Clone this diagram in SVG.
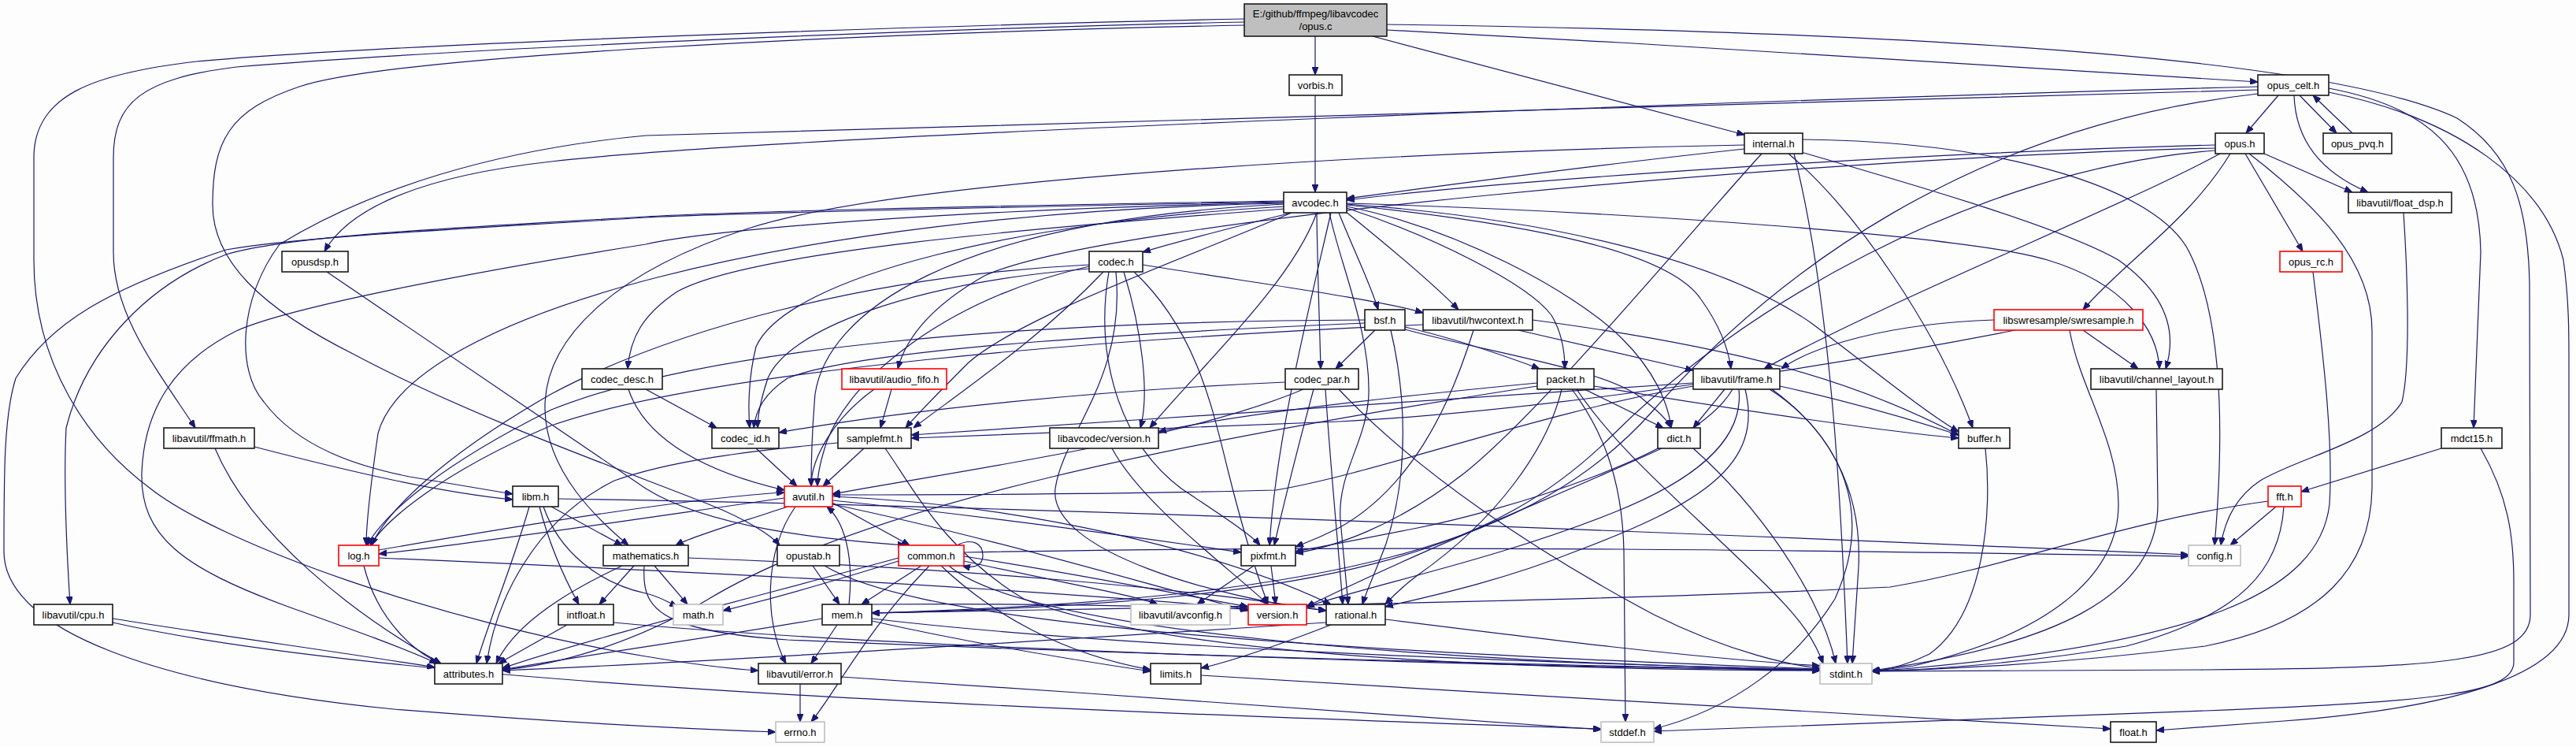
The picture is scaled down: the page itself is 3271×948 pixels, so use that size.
<svg xmlns="http://www.w3.org/2000/svg" width="3271" height="948" viewBox="0 0 3271 948">
<style>
.bg{fill:#fcfdfc}
.n rect{fill:#fff;stroke:#1a1a1a;stroke-width:1.6}
.r rect{fill:#fff;stroke:#ff0000;stroke-width:1.6}
.g rect{fill:#fff;stroke:#bfbfbf;stroke-width:1.6}
.root rect{fill:#bfbfbf;stroke:#1a1a1a;stroke-width:1.6}
text{font-family:"Liberation Sans",Arial,sans-serif;font-size:13px;fill:#000;text-anchor:middle}
#edges path{fill:none;stroke:#191970;stroke-width:1.2;marker-end:url(#a)}
</style>
<defs>
<marker id="a" markerWidth="10" markerHeight="8" refX="10" refY="4" orient="auto" markerUnits="userSpaceOnUse"><path d="M0,0 L10,4 L0,8 z" fill="#191970" stroke="#191970" stroke-width="1"/></marker>
</defs>
<rect class="bg" x="0" y="0" width="3271" height="948"/>
<g id="edges">
<!-- opus.c -->
<path d="M1670,46 L1670,95"/>
<path d="M1743,46 L2215,171"/>
<path d="M1761,38 C2150,58 2600,86 2867,104"/>
<path d="M1761,31 C2400,40 2950,70 3120,150 C3190,195 3210,260 3212,360 L3213,780 C3213,840 3100,848 2800,850 C2600,851 2450,852 2377,852"/>
<path d="M1580,28 C1200,36 600,60 300,85 C180,100 144,130 144,200 L144,320 C144,400 200,470 248,543"/>
<path d="M1580,24 C1200,32 500,55 250,78 C120,93 43,120 43,200 L43,330 C43,460 110,560 191,620 C280,690 560,790 820,833 C880,843 930,849 963,851"/>
<path d="M1580,32 C1100,42 500,70 380,110 C290,140 270,180 270,260 C270,330 330,390 450,450 C600,530 800,600 900,640 C950,660 980,680 990,692"/>
<!-- vorbis.h -->
<path d="M1670,121 L1670,244"/>
<!-- internal.h -->
<path d="M2215,189 C2000,212 1800,240 1710,252"/>
<path d="M2215,184 C1800,192 1150,225 950,290 C780,345 690,430 692,520 C694,600 760,660 798,692"/>
<path d="M2237,195 C2150,290 1960,520 1860,600 C1770,670 1690,695 1645,702"/>
<path d="M2271,195 C2360,270 2460,420 2505,543"/>
<path d="M2287,193 C2450,240 2620,290 2690,330 C2760,380 2762,430 2750,468"/>
<path d="M2289,177 C2550,180 2740,240 2780,320 C2830,420 2820,600 2812,692"/>
<path d="M2278,195 C2330,400 2340,700 2346,842"/>
<!-- opus_celt.h -->
<path d="M2893,121 L2852,169"/>
<path d="M2920,121 L2967,169"/>
<path d="M2913,121 C2915,180 2950,220 3007,244"/>
<path d="M2957,112 C3080,135 3148,190 3150,320 L3141,543"/>
<path d="M2957,117 C3120,150 3230,230 3255,330 C3262,380 3262,420 3262,460 L3262,780 C3262,860 3100,900 2900,915 C2800,922 2760,925 2738,927"/>
<path d="M2867,110 C2300,125 1000,170 700,205 C520,225 440,270 412,319"/>
<path d="M2867,114 C2300,130 1200,160 820,172 C627,190 470,240 355,310 C303,380 300,470 335,510 C380,570 460,593 520,605 C580,615 620,622 651,627"/>
<path d="M2867,119 C2500,160 2250,350 2100,520 C1950,690 1700,760 1107,778"/>
<!-- opus.h -->
<path d="M2813,184 C2400,195 1900,230 1710,254"/>
<path d="M2813,188 C2300,200 1400,280 1250,350 C1180,390 1150,430 1140,468"/>
<path d="M2819,195 C2700,260 2400,380 2240,468"/>
<path d="M2832,195 C2780,280 2700,330 2645,393"/>
<path d="M2851,195 L2924,319"/>
<path d="M2875,195 L2987,244"/>
<path d="M2856,195 C2940,260 3012,330 3012,420 L3012,620 C3010,720 2950,790 2800,820 C2600,845 2450,850 2377,852"/>
<path d="M2813,191 C2500,215 2200,400 2050,550 C1900,700 1700,765 1107,778"/>
<!-- opus_pvq.h -->
<path d="M2987,169 L2937,121"/>
<!-- float_dsp.h -->
<path d="M3052,270 C3056,330 3062,460 3050,510 C3020,560 2920,580 2870,610 C2840,630 2825,660 2820,692"/>
<!-- avcodec.h -->
<path d="M1640,270 C1560,290 1500,305 1451,320"/>
<path d="M1632,265 C1300,290 950,320 860,370 C815,400 800,430 797,468"/>
<path d="M1672,270 C1673,350 1676,420 1677,468"/>
<path d="M1688,270 C1700,330 1740,420 1738,500 C1736,560 1698,600 1702,660 L1712,767"/>
<path d="M1700,270 C1720,320 1740,360 1750,393"/>
<path d="M1708,268 C1760,310 1820,360 1852,393"/>
<path d="M1710,264 C1820,300 1940,360 1970,400 C1985,425 1987,450 1987,468"/>
<path d="M1710,262 C1850,290 2000,370 2060,430 C2100,470 2118,510 2122,543"/>
<path d="M1710,260 C1950,285 2120,320 2160,380 C2185,415 2195,445 2198,468"/>
<path d="M1710,259 C2000,280 2200,340 2300,410 C2380,470 2440,520 2487,548"/>
<path d="M1710,258 C2100,270 2500,300 2600,330 C2700,360 2740,420 2742,468"/>
<path d="M1690,270 C1660,400 1620,560 1612,692"/>
<path d="M1640,270 C1500,330 1300,400 1230,460 C1190,500 1165,525 1150,543"/>
<path d="M1632,262 C1300,280 1000,350 960,440 C950,480 950,520 952,543"/>
<path d="M1632,259 C1200,280 1050,400 1035,500 C1030,560 1030,600 1030,617"/>
<path d="M1630,258 C1000,270 520,400 480,550 C470,620 465,670 465,692"/>
<path d="M1630,257 C1200,266 900,292 820,310 C600,345 366,390 300,420 C220,460 183,520 180,600 C178,680 230,720 366,770 C450,800 520,825 555,842"/>
<path d="M1630,256 C1200,264 900,272 820,276 C600,290 380,300 287,317 C136,367 63,410 20,480 C5,527 5,600 5,700 C5,800 200,870 500,900 C750,920 900,926 985,929"/>
<path d="M1630,255 C1200,262 900,270 820,275 C600,288 370,298 287,323 C190,360 110,440 84,543 C80,620 86,720 89,767"/>
<path d="M1672,270 C1640,360 1520,470 1460,543"/>
<!-- opusdsp.h -->
<path d="M415,345 L820,620 C900,670 1050,685 1150,692"/>
<!-- ffmath.h -->
<path d="M323,567 C450,600 560,625 651,634"/>
<path d="M273,569 C320,680 450,780 560,842"/>
<!-- codec.h -->
<path d="M1383,341 C1150,360 1000,420 975,480 C965,510 962,530 962,543"/>
<path d="M1383,336 C1100,350 850,420 700,500 C560,580 490,650 472,692"/>
<path d="M1383,338 C1200,380 1080,480 1050,560 C1040,590 1038,605 1038,617"/>
<path d="M1401,345 C1320,430 1230,490 1160,543"/>
<path d="M1408,345 C1390,450 1420,560 1500,620 C1560,660 1590,680 1600,692"/>
<path d="M1417,345 C1430,480 1350,550 1340,620 C1330,700 1550,760 1684,775"/>
<path d="M1427,345 C1450,420 1460,500 1448,543"/>
<path d="M1440,345 C1520,420 1540,520 1560,600 C1580,680 1600,740 1610,767"/>
<path d="M1451,336 C1600,360 1750,380 1807,397"/>
<!-- codec_desc.h -->
<path d="M820,494 L910,543"/>
<path d="M798,494 C820,560 900,600 996,622"/>
<!-- bsf.h -->
<path d="M1746,419 L1696,468"/>
<path d="M1766,419 C1785,500 1790,600 1760,690 C1745,730 1735,750 1730,767"/>
<path d="M1784,415 C1850,430 1920,455 1955,468"/>
<path d="M1784,418 C1900,450 2050,470 2090,510 C2110,525 2118,535 2122,543"/>
<path d="M1733,410 C1500,420 1100,440 1000,480 C970,500 960,520 957,543"/>
<path d="M1733,406 C1300,408 900,440 700,520 C560,590 490,650 466,692"/>
<!-- hwcontext.h -->
<path d="M1946,406 C2200,440 2350,480 2487,552"/>
<path d="M1928,419 L2150,470"/>
<path d="M1871,419 C1840,520 1790,620 1700,670 C1670,685 1655,690 1645,694"/>
<path d="M1807,412 C1400,430 900,470 700,540 C560,600 490,660 470,692"/>
<!-- codec_par.h -->
<path d="M1632,485 C1400,495 1150,520 989,549"/>
<path d="M1655,494 C1500,560 1200,600 1057,627"/>
<path d="M1668,494 C1650,560 1630,640 1618,692"/>
<path d="M1683,494 C1690,600 1700,700 1705,767"/>
<path d="M1700,494 C1800,600 1950,700 2100,780 C2200,830 2280,845 2311,848"/>
<!-- packet.h -->
<path d="M1996,494 C2030,540 2060,600 2062,700 L2064,916"/>
<path d="M2002,494 C2060,580 2150,650 2250,750 C2290,790 2305,815 2315,842"/>
<path d="M1983,494 C1965,570 1900,660 1800,730 C1780,745 1770,755 1759,767"/>
<path d="M2012,494 L2112,543"/>
<path d="M2024,490 C2200,520 2400,548 2487,556"/>
<path d="M1952,490 C1500,560 1100,640 900,760 C800,820 700,845 638,850"/>
<path d="M1952,486 C1700,510 1550,530 1471,548"/>
<!-- frame.h -->
<path d="M2150,490 C1950,525 1750,600 1620,622 C1400,628 1150,628 1057,628"/>
<path d="M2190,494 L2150,543"/>
<path d="M2208,494 C2215,560 2150,610 2050,650 C1900,710 1750,740 1659,770"/>
<path d="M2216,494 C2240,590 2160,640 2000,700 C1900,740 1800,760 1759,770"/>
<path d="M2247,494 C2320,540 2365,620 2360,720 L2352,842"/>
<path d="M2250,494 C2340,560 2380,650 2330,760 C2280,840 2200,900 2100,925"/>
<path d="M2260,490 C2350,510 2420,530 2487,552"/>
<path d="M2150,486 C1900,500 1500,530 1157,552"/>
<path d="M2200,494 C2150,580 1900,650 1800,670 C1700,690 1660,697 1645,700"/>
<!-- audio_fifo.h -->
<path d="M1132,494 L1118,543"/>
<path d="M1110,494 C1060,530 1030,580 1030,617"/>
<!-- codec_id.h -->
<path d="M960,569 L1012,617"/>
<!-- samplefmt.h -->
<path d="M1097,569 L1045,617"/>
<path d="M1124,569 C1160,620 1200,700 1300,760 C1500,840 2000,850 2311,851"/>
<path d="M1064,562 C950,572 850,585 780,610 C680,660 630,760 618,842"/>
<!-- libavcodec/version.h -->
<path d="M1412,569 C1450,640 1560,720 1610,767"/>
<!-- dict.h -->
<path d="M2110,569 C2000,620 1800,700 1659,770"/>
<path d="M2150,569 C2230,640 2310,750 2331,842"/>
<!-- buffer.h -->
<path d="M2521,569 C2530,650 2520,780 2450,830 C2420,845 2395,850 2377,852"/>
<!-- swresample.h -->
<path d="M2645,419 L2715,468"/>
<path d="M2532,406 C2400,410 2300,440 2262,468"/>
<path d="M2559,419 C2400,450 2000,520 1700,535 C1400,548 1250,552 1157,556"/>
<path d="M2628,419 C2640,490 2690,560 2690,640 C2690,720 2620,800 2430,845 L2377,852"/>
<!-- channel_layout.h -->
<path d="M2738,494 L2740,640 C2740,760 2600,820 2377,851"/>
<!-- opus_rc.h -->
<path d="M2937,345 C2950,450 2963,560 2958,640 C2945,750 2800,820 2377,852"/>
<!-- mdct15.h -->
<path d="M3100,569 L2922,624"/>
<path d="M3150,569 C3185,630 3192,680 3192,740 L3192,840 C3192,880 3100,890 2800,902 C2500,915 2200,925 2100,928"/>
<!-- fft.h -->
<path d="M2890,643 L2832,692"/>
<path d="M2900,643 C2895,720 2850,780 2700,820 C2550,845 2420,851 2377,852"/>
<path d="M2880,636 C2700,660 2550,720 2400,745 C2000,765 1400,772 1107,778"/>
<!-- libm.h -->
<path d="M709,633 C1200,640 2000,670 2779,704"/>
<path d="M672,643 C650,720 620,790 605,842"/>
<path d="M685,643 C700,700 720,740 735,767"/>
<path d="M700,643 L790,692"/>
<path d="M690,643 C710,700 760,740 820,753 C840,758 850,765 860,770"/>
<!-- log.h -->
<path d="M481,698 C700,660 900,630 996,625"/>
<path d="M462,718 C480,790 530,830 560,842"/>
<path d="M481,708 C800,722 1200,740 1584,772"/>
<!-- mathematics.h -->
<path d="M831,718 L873,767"/>
<path d="M805,718 L761,767"/>
<path d="M790,718 C700,760 650,800 630,842"/>
<path d="M818,718 C815,770 830,800 1000,812 C1400,830 2000,845 2311,851"/>
<path d="M874,708 C1200,720 1500,745 1684,775"/>
<!-- avutil.h -->
<path d="M1000,643 C950,660 880,680 858,692"/>
<path d="M1057,638 L1155,692"/>
<path d="M1010,643 C970,700 970,790 998,842"/>
<path d="M1057,635 C1300,660 1500,690 1576,701"/>
<path d="M1057,640 C1250,680 1450,740 1585,775"/>
<path d="M1057,630 C1300,640 1550,700 1690,767"/>
<path d="M996,632 C800,660 600,690 481,703"/>
<!-- opustab.h -->
<path d="M1032,718 L1066,767"/>
<path d="M1047,718 C1150,780 1500,820 2311,849"/>
<!-- common.h -->
<path d="M1215,692 C1235,682 1248,690 1248,705 C1248,717 1238,722 1222,718"/>
<path d="M1141,712 C1050,740 960,765 918,775"/>
<path d="M1170,718 L1094,767"/>
<path d="M1180,718 C1100,800 1060,880 1030,916"/>
<path d="M1195,718 C1260,780 1350,830 1461,850"/>
<path d="M1141,708 C950,760 750,810 638,848"/>
<path d="M1224,706 C1380,730 1500,755 1585,770"/>
<path d="M1224,712 C1350,740 1440,755 1470,767"/>
<path d="M1224,701 C1800,690 2400,700 2779,706"/>
<path d="M1205,718 C1300,800 1800,840 2311,850"/>
<!-- pixfmt.h -->
<path d="M1592,718 L1520,767"/>
<path d="M1614,718 L1620,767"/>
<!-- cpu.h -->
<path d="M143,785 C300,810 450,830 552,847"/>
<path d="M143,790 C500,870 1300,900 2033,925"/>
<!-- intfloat.h -->
<path d="M720,793 L633,842"/>
<path d="M779,790 C1100,820 1800,845 2311,850"/>
<!-- mem.h -->
<path d="M1063,793 L1030,842"/>
<path d="M1078,767 C1085,700 1070,660 1050,643"/>
<path d="M1107,788 C1250,820 1380,840 1461,852"/>
<path d="M1107,785 C1400,820 1900,840 2311,850"/>
<path d="M1044,785 C900,810 750,830 638,850"/>
<path d="M1100,767 C1300,765 1500,770 1585,773"/>
<!-- rational.h -->
<path d="M1759,786 C1950,810 2150,835 2311,845"/>
<path d="M1690,793 C1620,820 1560,840 1525,848"/>
<path d="M1684,790 C1300,815 900,840 638,851"/>
<!-- error.h -->
<path d="M1016,867 L1016,916"/>
<path d="M1068,859 C1400,880 1800,910 2033,926"/>
<!-- limits.h -->
<path d="M1525,857 C1900,880 2400,910 2680,925"/>
</g>
<g id="n_opusc" class="root"><rect x="1580" y="5" width="181" height="41"/><text x="1670.5" y="22">E:/github/ffmpeg/libavcodec</text><text x="1670.5" y="38">/opus.c</text></g>
<g id="n_vorbis" class="n"><rect x="1637" y="95" width="67" height="26"/><text x="1670.5" y="112.5">vorbis.h</text></g>
<g id="n_internal" class="n"><rect x="2215" y="169" width="74" height="26"/><text x="2252" y="186.5">internal.h</text></g>
<g id="n_opus_celt" class="n"><rect x="2867" y="95" width="90" height="26"/><text x="2912" y="112.5">opus_celt.h</text></g>
<g id="n_opus" class="n"><rect x="2813" y="169" width="62" height="26"/><text x="2844" y="186.5">opus.h</text></g>
<g id="n_opus_pvq" class="n"><rect x="2950" y="169" width="87" height="26"/><text x="2993.5" y="186.5">opus_pvq.h</text></g>
<g id="n_float_dsp" class="n"><rect x="2982" y="244" width="131" height="26"/><text x="3047.5" y="261.5">libavutil/float_dsp.h</text></g>
<g id="n_avcodec" class="n"><rect x="1630" y="244" width="80" height="26"/><text x="1670" y="261.5">avcodec.h</text></g>
<g id="n_opusdsp" class="n"><rect x="358" y="319" width="84" height="26"/><text x="400" y="336.5">opusdsp.h</text></g>
<g id="n_ffmath" class="n"><rect x="208" y="543" width="115" height="26"/><text x="265.5" y="560.5">libavutil/ffmath.h</text></g>
<g id="n_codec" class="n"><rect x="1383" y="319" width="68" height="26"/><text x="1417" y="336.5">codec.h</text></g>
<g id="n_codec_desc" class="n"><rect x="739" y="468" width="102" height="26"/><text x="790" y="485.5">codec_desc.h</text></g>
<g id="n_bsf" class="n"><rect x="1733" y="393" width="51" height="26"/><text x="1758.5" y="410.5">bsf.h</text></g>
<g id="n_hwcontext" class="n"><rect x="1807" y="393" width="139" height="26"/><text x="1876.5" y="410.5">libavutil/hwcontext.h</text></g>
<g id="n_codec_par" class="n"><rect x="1632" y="468" width="93" height="26"/><text x="1678.5" y="485.5">codec_par.h</text></g>
<g id="n_packet" class="n"><rect x="1952" y="468" width="72" height="26"/><text x="1988" y="485.5">packet.h</text></g>
<g id="n_frame" class="n"><rect x="2150" y="468" width="110" height="26"/><text x="2205" y="485.5">libavutil/frame.h</text></g>
<g id="n_audio_fifo" class="r"><rect x="1069" y="468" width="133" height="26"/><text x="1135.5" y="485.5">libavutil/audio_fifo.h</text></g>
<g id="n_codec_id" class="n"><rect x="904" y="543" width="85" height="26"/><text x="946.5" y="560.5">codec_id.h</text></g>
<g id="n_samplefmt" class="n"><rect x="1064" y="543" width="93" height="26"/><text x="1110.5" y="560.5">samplefmt.h</text></g>
<g id="n_lavc_version" class="n"><rect x="1333" y="543" width="138" height="26"/><text x="1402" y="560.5">libavcodec/version.h</text></g>
<g id="n_dict" class="n"><rect x="2105" y="543" width="54" height="26"/><text x="2132" y="560.5">dict.h</text></g>
<g id="n_buffer" class="n"><rect x="2487" y="543" width="65" height="26"/><text x="2519.5" y="560.5">buffer.h</text></g>
<g id="n_swresample" class="r"><rect x="2532" y="393" width="189" height="26"/><text x="2626.5" y="410.5">libswresample/swresample.h</text></g>
<g id="n_channel_layout" class="n"><rect x="2655" y="468" width="167" height="26"/><text x="2738.5" y="485.5">libavutil/channel_layout.h</text></g>
<g id="n_opus_rc" class="r"><rect x="2895" y="319" width="79" height="26"/><text x="2934.5" y="336.5">opus_rc.h</text></g>
<g id="n_mdct15" class="n"><rect x="3100" y="543" width="77" height="26"/><text x="3138.5" y="560.5">mdct15.h</text></g>
<g id="n_libm" class="n"><rect x="651" y="617" width="58" height="26"/><text x="680" y="634.5">libm.h</text></g>
<g id="n_log" class="r"><rect x="430" y="692" width="51" height="26"/><text x="455.5" y="709.5">log.h</text></g>
<g id="n_mathematics" class="n"><rect x="766" y="692" width="108" height="26"/><text x="820" y="709.5">mathematics.h</text></g>
<g id="n_avutil" class="r"><rect x="996" y="617" width="61" height="26"/><text x="1026.5" y="634.5">avutil.h</text></g>
<g id="n_opustab" class="n"><rect x="987" y="692" width="79" height="26"/><text x="1026.5" y="709.5">opustab.h</text></g>
<g id="n_common" class="r"><rect x="1141" y="692" width="83" height="26"/><text x="1182.5" y="709.5">common.h</text></g>
<g id="n_pixfmt" class="n"><rect x="1576" y="692" width="69" height="26"/><text x="1610.5" y="709.5">pixfmt.h</text></g>
<g id="n_cpu" class="n"><rect x="43" y="767" width="100" height="26"/><text x="93" y="784.5">libavutil/cpu.h</text></g>
<g id="n_intfloat" class="n"><rect x="709" y="767" width="70" height="26"/><text x="744" y="784.5">intfloat.h</text></g>
<g id="n_math" class="g"><rect x="855" y="767" width="63" height="26"/><text x="886.5" y="784.5">math.h</text></g>
<g id="n_mem" class="n"><rect x="1044" y="767" width="63" height="26"/><text x="1075.5" y="784.5">mem.h</text></g>
<g id="n_avconfig" class="g"><rect x="1436" y="767" width="126" height="26"/><text x="1499" y="784.5">libavutil/avconfig.h</text></g>
<g id="n_version" class="r"><rect x="1585" y="767" width="74" height="26"/><text x="1622" y="784.5">version.h</text></g>
<g id="n_rational" class="n"><rect x="1684" y="767" width="75" height="26"/><text x="1721.5" y="784.5">rational.h</text></g>
<g id="n_fft" class="r"><rect x="2880" y="617" width="42" height="26"/><text x="2901" y="634.5">fft.h</text></g>
<g id="n_config" class="g"><rect x="2779" y="692" width="66" height="26"/><text x="2812" y="709.5">config.h</text></g>
<g id="n_attributes" class="n"><rect x="552" y="842" width="86" height="26"/><text x="595" y="859.5">attributes.h</text></g>
<g id="n_error" class="n"><rect x="963" y="842" width="105" height="26"/><text x="1015.5" y="859.5">libavutil/error.h</text></g>
<g id="n_limits" class="n"><rect x="1461" y="842" width="64" height="26"/><text x="1493" y="859.5">limits.h</text></g>
<g id="n_stdint" class="g"><rect x="2311" y="842" width="66" height="26"/><text x="2344" y="859.5">stdint.h</text></g>
<g id="n_errno" class="g"><rect x="985" y="916" width="62" height="26"/><text x="1016" y="933.5">errno.h</text></g>
<g id="n_stddef" class="g"><rect x="2033" y="916" width="67" height="26"/><text x="2066.5" y="933.5">stddef.h</text></g>
<g id="n_float" class="n"><rect x="2680" y="916" width="58" height="26"/><text x="2709" y="933.5">float.h</text></g>
</svg>
